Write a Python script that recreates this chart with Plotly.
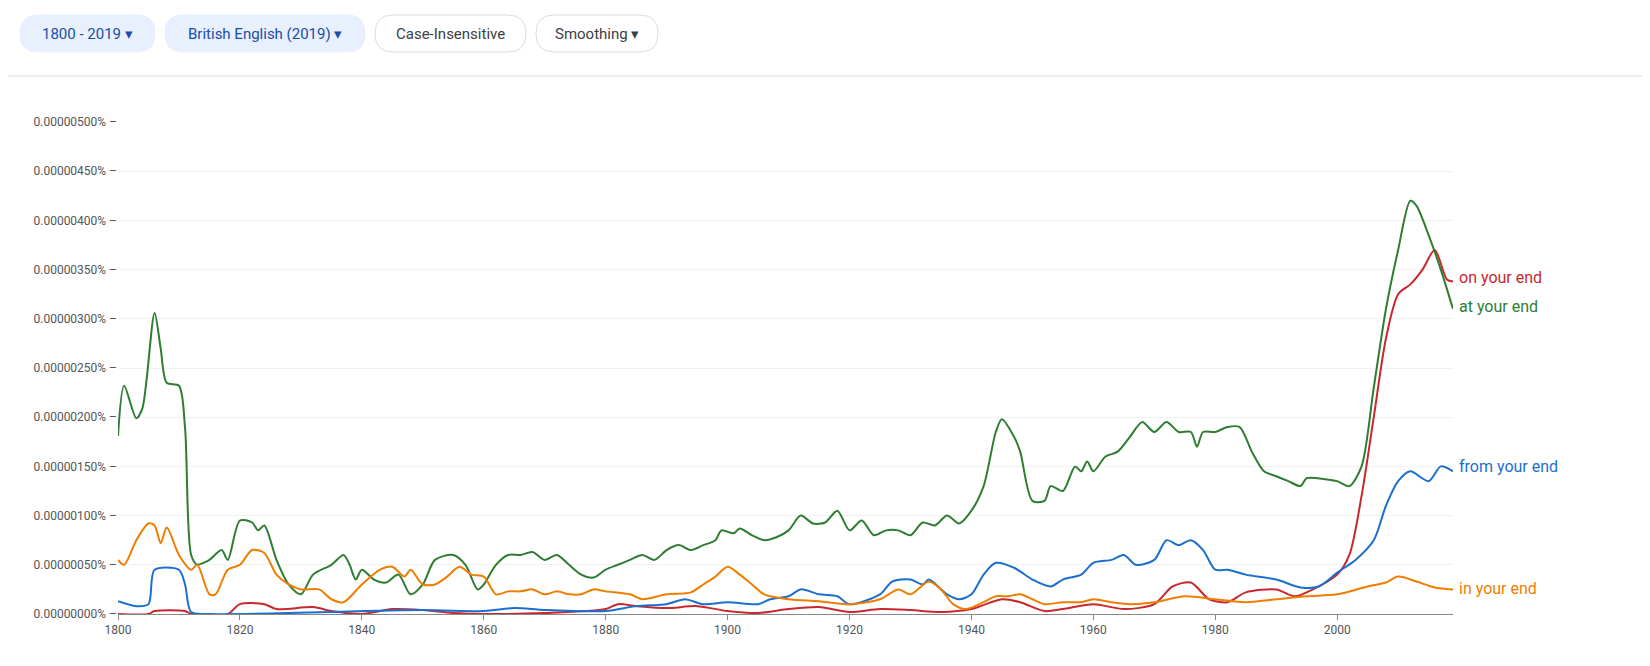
import plotly.graph_objects as go

at_years = [1800,1801,1803,1804,1806,1807,1808,1810,1811,1812,1813,1814,1815,1817,1818,1820,1822,1823,1824,1826,1828,1830,1832,1835,1837,1838,1839,1840,1842,1844,1846,1848,1850,1852,1855,1857,1859,1860,1862,1864,1866,1868,1870,1872,1874,1876,1878,1880,1882,1884,1886,1888,1890,1892,1894,1896,1898,1899,1901,1902,1904,1906,1908,1910,1912,1914,1916,1918,1920,1922,1924,1926,1928,1930,1932,1934,1936,1938,1940,1942,1944,1945,1947,1948,1950,1952,1953,1955,1957,1958,1959,1960,1962,1964,1966,1968,1970,1972,1974,1976,1977,1978,1980,1982,1984,1986,1988,1990,1992,1994,1995,1998,2000,2002,2004,2006,2008,2010,2012,2013,2015,2017,2019]
at_vals = [1.81,2.32,1.99,2.09,3.06,2.7,2.35,2.32,1.89,0.6,0.5,0.52,0.55,0.65,0.55,0.95,0.93,0.85,0.9,0.55,0.3,0.2,0.4,0.5,0.6,0.5,0.35,0.45,0.35,0.32,0.4,0.2,0.3,0.55,0.6,0.5,0.25,0.3,0.5,0.6,0.6,0.63,0.55,0.6,0.5,0.4,0.37,0.45,0.5,0.55,0.6,0.55,0.65,0.7,0.65,0.7,0.75,0.85,0.82,0.87,0.8,0.75,0.78,0.85,1.0,0.92,0.93,1.05,0.85,0.95,0.8,0.85,0.85,0.8,0.93,0.9,1.0,0.92,1.05,1.3,1.85,1.98,1.8,1.65,1.15,1.15,1.3,1.25,1.5,1.45,1.55,1.45,1.6,1.65,1.8,1.95,1.85,1.95,1.85,1.85,1.7,1.85,1.85,1.9,1.9,1.65,1.45,1.4,1.35,1.3,1.38,1.37,1.35,1.3,1.5,2.3,3.1,3.7,4.2,4.15,3.85,3.5,3.1]

on_years = [1800,1805,1806,1811,1812,1818,1820,1824,1826,1832,1835,1840,1845,1850,1855,1860,1870,1880,1882,1885,1890,1895,1900,1905,1910,1915,1920,1925,1930,1935,1940,1945,1948,1952,1955,1960,1965,1970,1973,1976,1979,1982,1985,1990,1993,1996,2000,2002,2004,2006,2008,2010,2012,2014,2016,2018,2019]
on_vals = [0,0,0.03,0.03,0,0,0.1,0.1,0.05,0.07,0.03,0,0.05,0.04,0.01,0,0.01,0.05,0.1,0.08,0.06,0.08,0.03,0.01,0.05,0.07,0.02,0.05,0.04,0.02,0.05,0.15,0.12,0.03,0.05,0.1,0.05,0.1,0.28,0.32,0.15,0.12,0.22,0.25,0.18,0.25,0.4,0.6,1.2,2.0,2.8,3.25,3.35,3.5,3.7,3.4,3.38]

from_years = [1800,1803,1805,1806,1810,1811,1812,1815,1850,1860,1865,1870,1880,1885,1890,1893,1896,1900,1905,1907,1910,1912,1915,1918,1920,1925,1927,1930,1932,1933,1936,1938,1940,1942,1944,1947,1950,1953,1955,1958,1960,1963,1965,1967,1970,1972,1974,1976,1978,1980,1982,1985,1990,1994,1997,2000,2003,2006,2008,2010,2012,2015,2017,2019]
from_vals = [0.13,0.08,0.1,0.45,0.45,0.3,0.02,0,0.04,0.03,0.06,0.04,0.03,0.08,0.1,0.15,0.1,0.12,0.1,0.15,0.18,0.25,0.2,0.18,0.1,0.2,0.33,0.35,0.3,0.35,0.2,0.15,0.2,0.4,0.52,0.47,0.35,0.28,0.35,0.4,0.52,0.55,0.6,0.5,0.55,0.75,0.7,0.75,0.65,0.45,0.45,0.4,0.35,0.27,0.28,0.42,0.55,0.75,1.1,1.35,1.45,1.35,1.5,1.45]

in_years = [1800,1801,1803,1805,1806,1807,1808,1810,1812,1813,1815,1816,1818,1820,1822,1824,1826,1828,1830,1833,1835,1837,1840,1843,1845,1847,1848,1850,1852,1854,1856,1858,1860,1862,1864,1866,1868,1870,1872,1874,1876,1878,1880,1884,1886,1890,1894,1896,1898,1900,1902,1904,1906,1910,1915,1920,1925,1928,1930,1933,1935,1937,1939,1942,1944,1946,1948,1950,1952,1955,1958,1960,1963,1966,1970,1975,1980,1985,1990,1995,2000,2005,2008,2010,2013,2016,2019]
in_vals = [0.55,0.5,0.75,0.92,0.9,0.72,0.88,0.6,0.45,0.5,0.2,0.2,0.45,0.5,0.65,0.62,0.4,0.3,0.25,0.25,0.15,0.12,0.3,0.45,0.48,0.38,0.45,0.3,0.3,0.38,0.48,0.4,0.38,0.2,0.23,0.23,0.25,0.2,0.23,0.2,0.2,0.25,0.23,0.2,0.15,0.2,0.22,0.3,0.38,0.48,0.4,0.3,0.2,0.15,0.13,0.1,0.15,0.25,0.2,0.33,0.25,0.1,0.05,0.12,0.18,0.18,0.2,0.15,0.1,0.12,0.12,0.15,0.12,0.1,0.12,0.18,0.15,0.12,0.15,0.18,0.2,0.28,0.32,0.38,0.33,0.27,0.25]

tick_vals = [0,0.5,1,1.5,2,2.5,3,3.5,4,4.5,5]
tick_text = ["0.00000000%","0.00000050%","0.00000100%","0.00000150%","0.00000200%","0.00000250%","0.00000300%","0.00000350%","0.00000400%","0.00000450%","0.00000500%"]

series = [
    ("on your end", on_years, on_vals, "#c8282d", 3.42),
    ("at your end", at_years, at_vals, "#2e7d32", 3.13),
    ("from your end", from_years, from_vals, "#1a6fcc", 1.5),
    ("in your end", in_years, in_vals, "#ef7d00", 0.26),
]

W, H = 1650, 666
L, R, T, B = 110, 205, 114, 60
fig = go.Figure()
for name, xs, ys, col, ly in series:
    fig.add_trace(go.Scatter(x=xs, y=ys, mode="lines", name=name,
                             line=dict(color=col, width=2, shape="spline", smoothing=0.8)))
    fig.add_annotation(x=2019, y=ly, text=name, showarrow=False, xanchor="left",
                       xshift=4, font=dict(color=col, size=16, family="Roboto"))

def px2paper(px, py):
    return (px - L) / (W - L - R), (H - B - py) / (H - T - B)

def rrect(x0, y0, x1, y1, r):
    def p(x, y):
        a, b = px2paper(x, y)
        return f"{a:.5f},{b:.5f}"
    return (f"M {p(x0+r,y0)} L {p(x1-r,y0)} Q {p(x1,y0)} {p(x1,y0+r)} "
            f"L {p(x1,y1-r)} Q {p(x1,y1)} {p(x1-r,y1)} L {p(x0+r,y1)} "
            f"Q {p(x0,y1)} {p(x0,y1-r)} L {p(x0,y0+r)} Q {p(x0,y0)} {p(x0+r,y0)} Z")

buttons = [
    (12, 147, "1800 - 2019 ▾", True),
    (157, 357, "British English (2019) ▾", True),
    (367, 518, "Case-Insensitive", False),
    (528, 650, "Smoothing ▾", False),
]
for x0, x1, txt, act in buttons:
    fig.add_shape(type="path", path=rrect(x0, 7, x1, 44, 18), xref="paper", yref="paper",
                  fillcolor="#e8f0fe" if act else "white",
                  line=dict(color="#e8f0fe" if act else "#dadce0", width=1), layer="above")
    cx, cy = px2paper((x0 + x1) / 2, 26)
    fig.add_annotation(x=cx, y=cy, xref="paper", yref="paper", text=txt, showarrow=False,
                       xanchor="center", yanchor="middle",
                       font=dict(size=15, family="Roboto", color="#174ea6" if act else "#3c4043"))
a0, b0 = px2paper(0, 68)
a1, _ = px2paper(W, 68)
fig.add_shape(type="line", x0=a0, x1=a1, y0=b0, y1=b0, xref="paper", yref="paper",
              line=dict(color="#dadce0", width=1))

fig.update_layout(
    width=W, height=H, margin=dict(l=L, r=R, t=T, b=B, autoexpand=False),
    paper_bgcolor="white", plot_bgcolor="white", showlegend=False,
    font=dict(family="Roboto", size=12, color="#555"),
    xaxis=dict(range=[1800, 2019], tickvals=list(range(1800, 2020, 20)), showgrid=False,
               showline=True, linecolor="#888", linewidth=1, ticks="outside", ticklen=5,
               tickcolor="#888", zeroline=False, automargin=False),
    yaxis=dict(range=[0, 5], tickvals=tick_vals, ticktext=[t + " –" for t in tick_text],
               gridcolor="#f1f1f1", zeroline=False, ticks="", showline=False, automargin=False),
)
fig.write_html("out.html")
